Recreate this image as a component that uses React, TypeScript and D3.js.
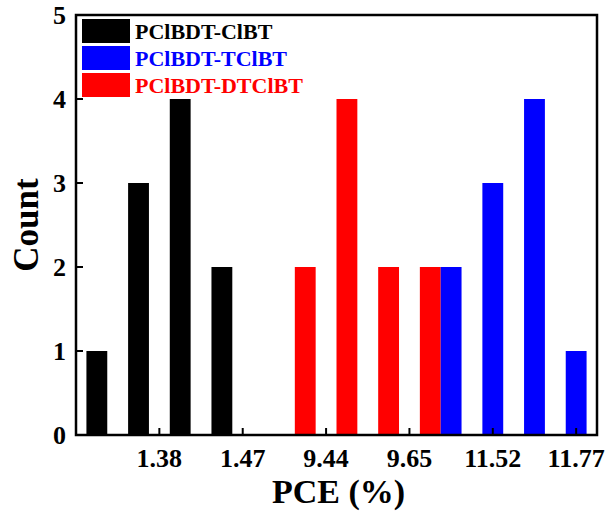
import { useEffect, useRef } from 'react'
import * as d3 from 'd3'

// bin positions along the x axis (in bin units) and counts per series
const seriesNames = ['PClBDT-ClBT', 'PClBDT-TClBT', 'PClBDT-DTClBT']
const seriesColors = ['#000000', '#0000ff', '#ff0000']

const blackBins = [0.5, 1.5, 2.5, 3.5]
const blackCounts = [1, 3, 4, 2]
const redBins = [5.5, 6.5, 7.5, 8.5]
const redCounts = [2, 4, 2, 2]
const blueBins = [9, 10, 11, 12]
const blueCounts = [2, 3, 4, 1]

const xTickPos = [2, 4, 6, 8, 10, 12]
const xTickLabels = ['1.38', '1.47', '9.44', '9.65', '11.52', '11.77']
const yTicks = [0, 1, 2, 3, 4, 5]

const App = () => {
  const svgRef = useRef(null)

  useEffect(() => {
    const width = 606
    const height = 513
    const left = 76
    const right = 597
    const top = 15
    const bottom = 435
    const font = '"Liberation Serif", "Times New Roman", serif'

    const svg = d3.select(svgRef.current).attr('width', width).attr('height', height)
    svg.selectAll('*').remove()

    const x = d3.scaleLinear().domain([0, 12.5]).range([left, right])
    const y = d3.scaleLinear().domain([0, 5]).range([bottom, top])
    const barW = x(0.5) - x(0)

    const series = [
      { bins: blackBins, counts: blackCounts, color: seriesColors[0] },
      { bins: redBins, counts: redCounts, color: seriesColors[2] },
      { bins: blueBins, counts: blueCounts, color: seriesColors[1] },
    ]

    series.forEach((s) => {
      svg
        .append('g')
        .selectAll('rect')
        .data(s.bins.map((b, i) => ({ b, c: s.counts[i] })))
        .join('rect')
        .attr('x', (d) => x(d.b) - barW / 2)
        .attr('width', barW)
        .attr('y', (d) => y(d.c))
        .attr('height', (d) => y(0) - y(d.c))
        .attr('fill', s.color)
    })

    // frame
    svg
      .append('rect')
      .attr('x', left)
      .attr('y', top)
      .attr('width', right - left)
      .attr('height', bottom - top)
      .attr('fill', 'none')
      .attr('stroke', '#000')
      .attr('stroke-width', 2.5)

    // y ticks (inward)
    const yg = svg.append('g')
    yTicks.forEach((t) => {
      yg.append('line')
        .attr('x1', left)
        .attr('x2', left + 7)
        .attr('y1', y(t))
        .attr('y2', y(t))
        .attr('stroke', '#000')
        .attr('stroke-width', 2)
      yg.append('text')
        .attr('x', left - 10)
        .attr('y', y(t))
        .attr('dy', '0.34em')
        .attr('text-anchor', 'end')
        .attr('font-family', font)
        .attr('font-weight', 'bold')
        .attr('font-size', 26)
        .text(t)
    })

    // x ticks (inward)
    const xg = svg.append('g')
    xTickPos.forEach((p, i) => {
      xg.append('line')
        .attr('x1', x(p))
        .attr('x2', x(p))
        .attr('y1', bottom)
        .attr('y2', bottom - 7)
        .attr('stroke', '#000')
        .attr('stroke-width', 2)
      xg.append('text')
        .attr('x', x(p))
        .attr('y', 467)
        .attr('text-anchor', 'middle')
        .attr('font-family', font)
        .attr('font-weight', 'bold')
        .attr('font-size', 26)
        .text(xTickLabels[i])
    })

    // axis titles
    svg
      .append('text')
      .attr('x', (left + right) / 2 + 2)
      .attr('y', 503)
      .attr('text-anchor', 'middle')
      .attr('font-family', font)
      .attr('font-weight', 'bold')
      .attr('font-size', 34)
      .text('PCE (%)')

    svg
      .append('text')
      .attr('transform', `translate(38, ${(top + bottom) / 2}) rotate(-90)`)
      .attr('text-anchor', 'middle')
      .attr('font-family', font)
      .attr('font-weight', 'bold')
      .attr('font-size', 35)
      .text('Count')

    // legend
    const lg = svg.append('g')
    seriesNames.forEach((name, i) => {
      const ly = 19 + i * 27
      lg.append('rect')
        .attr('x', 82)
        .attr('y', ly)
        .attr('width', 48)
        .attr('height', 24)
        .attr('fill', seriesColors[i])
      lg.append('text')
        .attr('x', 135)
        .attr('y', ly + 20)
        .attr('font-family', font)
        .attr('font-weight', 'bold')
        .attr('font-size', 22)
        .attr('fill', seriesColors[i])
        .text(name)
    })
  }, [])

  return <svg ref={svgRef} style={{ position: 'absolute', left: 0, top: 0 }}></svg>
}

export default App
